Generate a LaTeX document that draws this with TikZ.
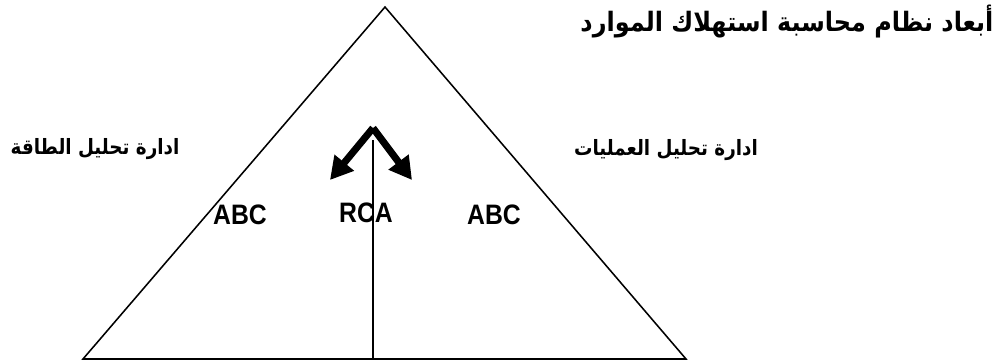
\documentclass[tikz,border=0pt]{standalone}
\usepackage{fontspec}
\setmainfont{Liberation Sans}
\newfontfamily\arabicfont[Script=Arabic]{DejaVu Sans}
\TeXXeTstate=1
\usetikzlibrary{arrows.meta}
\begin{document}
\begin{tikzpicture}[x=0.025cm, y=-0.025cm,
    edge/.style={line width=1.1pt},
    lbl/.style={font=\bfseries\fontsize{20}{24}\selectfont, xscale=0.88, inner sep=0pt},
    arlbl/.style={font=\arabicfont\bfseries\fontsize{15}{18}\selectfont, xscale=0.87, inner sep=0pt},
    fatarrow/.style={line width=5pt, -{Triangle[length=16pt,width=17pt]}}]
    \useasboundingbox (0,0) rectangle (1004,362);

    % Triangle and its middle line
    \coordinate (apex) at (385,7);
    \coordinate (baseL) at (83,359);
    \coordinate (baseR) at (686,359);
    \coordinate (mid) at (373,140);
    \coordinate (midbase) at (373,359);
    \draw[edge] (apex) -- (baseL) -- (baseR) -- cycle;
    \draw[edge] (mid) -- (midbase);

    % Split arrows
    \coordinate (split) at (373,128);
    \coordinate (tipL) at (330,180);
    \coordinate (tipR) at (412,180);
    \draw[fatarrow] (split) -- (tipL);
    \draw[fatarrow] (split) -- (tipR);

    % Labels inside
    \node[lbl] (abcL) at (240,215) {ABC};
    \node[lbl] (rca) at (366,213) {RCA};
    \node[lbl] (abcR) at (494,215) {ABC};

    % Arabic texts
    \node[arlbl, font=\arabicfont\bfseries\fontsize{19}{22}\selectfont, xscale=1.03] (title) at (787,21) {\beginR أبعاد نظام محاسبة استهلاك الموارد\endR};
    \node[arlbl] (capacity) at (95,149) {\beginR ادارة تحليل الطاقة\endR};
    \node[arlbl] (process) at (666,150) {\beginR ادارة تحليل العمليات\endR};
\end{tikzpicture}
\end{document}
